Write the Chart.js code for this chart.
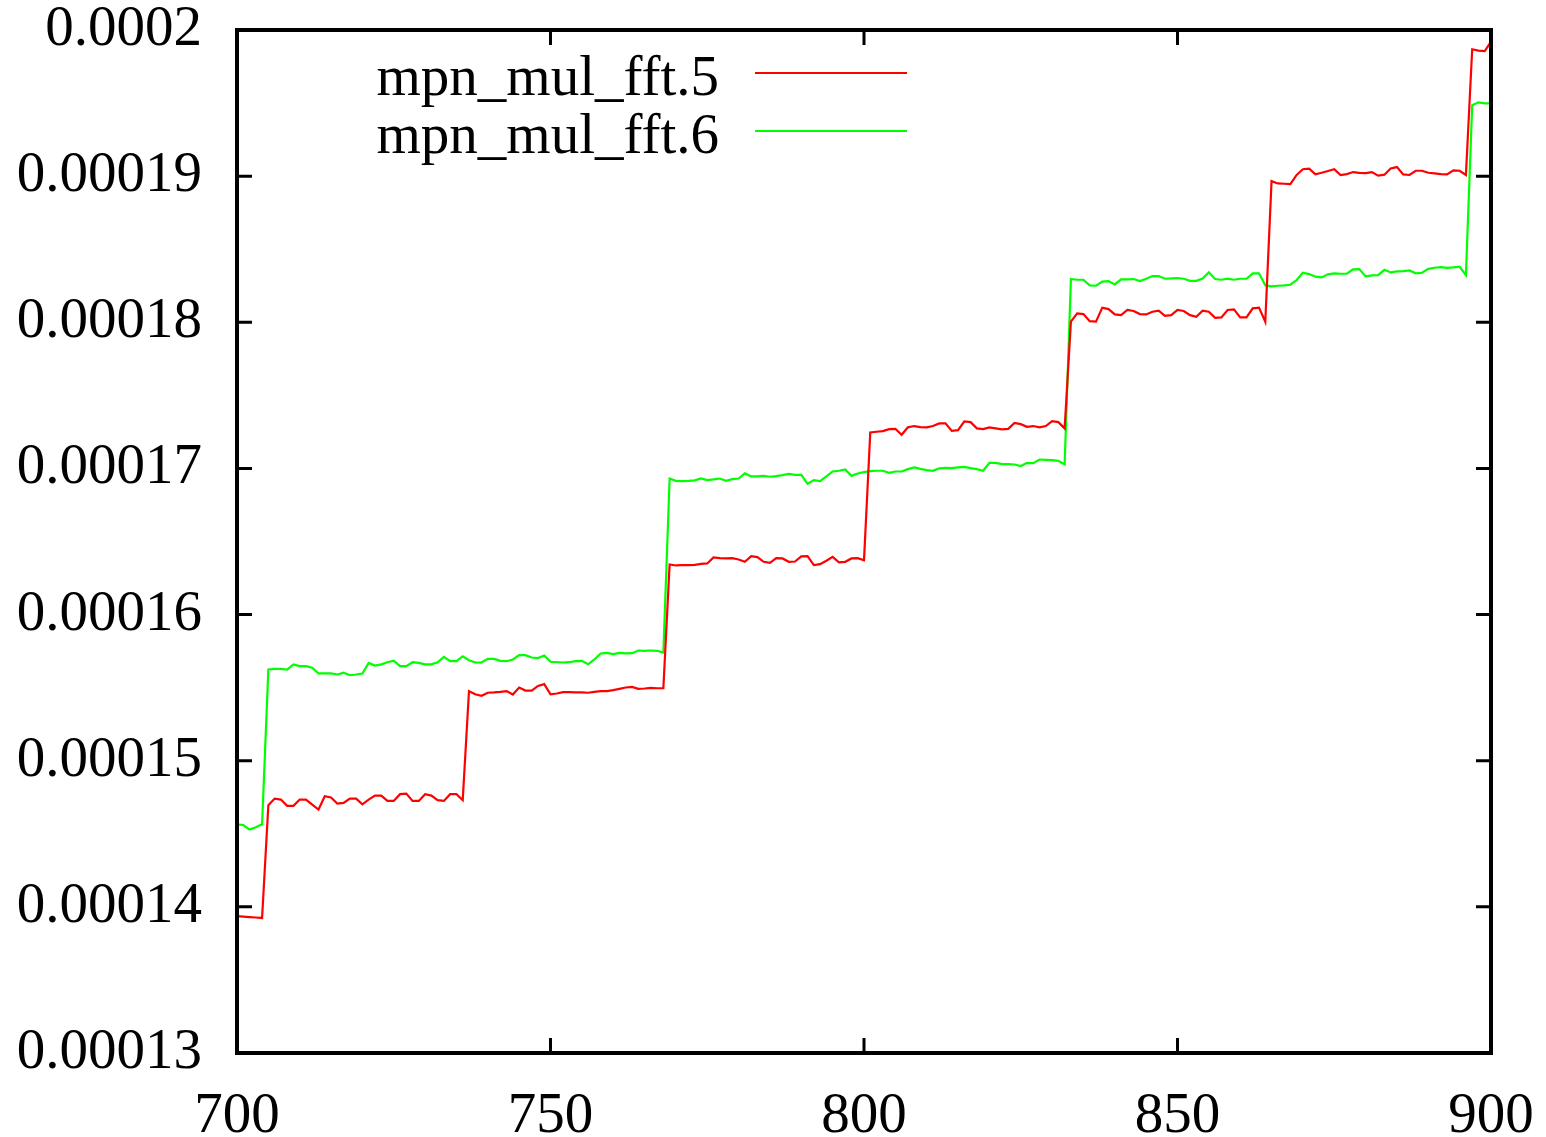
<!DOCTYPE html>
<html>
<head>
<meta charset="utf-8">
<script src="https://cdn.jsdelivr.net/npm/chart.js@4"></script>
<style>
  html, body { margin: 0; padding: 0; background: #fff; }
  #wrap { width: 1546px; height: 1137px; position: relative; }
</style>
</head>
<body>
<div id="wrap"><canvas id="chart"></canvas></div>
<script>
// sizes (x axis)
const sizes = [
  700, 701, 702, 703, 704, 705, 706, 707, 708, 709, 710, 711, 712, 713, 714, 715, 716, 717, 718, 719,
  720, 721, 722, 723, 724, 725, 726, 727, 728, 729, 730, 731, 732, 733, 734, 735, 736, 737, 738, 739,
  740, 741, 742, 743, 744, 745, 746, 747, 748, 749, 750, 751, 752, 753, 754, 755, 756, 757, 758, 759,
  760, 761, 762, 763, 764, 765, 766, 767, 768, 769, 770, 771, 772, 773, 774, 775, 776, 777, 778, 779,
  780, 781, 782, 783, 784, 785, 786, 787, 788, 789, 790, 791, 792, 793, 794, 795, 796, 797, 798, 799,
  800, 801, 802, 803, 804, 805, 806, 807, 808, 809, 810, 811, 812, 813, 814, 815, 816, 817, 818, 819,
  820, 821, 822, 823, 824, 825, 826, 827, 828, 829, 830, 831, 832, 833, 834, 835, 836, 837, 838, 839,
  840, 841, 842, 843, 844, 845, 846, 847, 848, 849, 850, 851, 852, 853, 854, 855, 856, 857, 858, 859,
  860, 861, 862, 863, 864, 865, 866, 867, 868, 869, 870, 871, 872, 873, 874, 875, 876, 877, 878, 879,
  880, 881, 882, 883, 884, 885, 886, 887, 888, 889, 890, 891, 892, 893, 894, 895, 896, 897, 898, 899,
  900
];

// mpn_mul_fft.5 timings
const fft5 = [
  1.3936e-4, 1.3933e-4, 1.3930e-4, 1.3927e-4, 1.3924e-4,
  1.4695e-4, 1.4741e-4, 1.4734e-4, 1.4691e-4, 1.4691e-4, 1.4734e-4, 1.4734e-4, 1.4700e-4,
  1.4666e-4, 1.4757e-4, 1.4748e-4, 1.4707e-4, 1.4711e-4, 1.4741e-4, 1.4741e-4, 1.4702e-4,
  1.4734e-4, 1.4761e-4, 1.4761e-4, 1.4725e-4, 1.4725e-4, 1.4771e-4, 1.4775e-4, 1.4725e-4,
  1.4725e-4, 1.4771e-4, 1.4761e-4, 1.4730e-4, 1.4725e-4, 1.4771e-4, 1.4771e-4, 1.4730e-4,
  1.5476e-4, 1.5455e-4, 1.5444e-4, 1.5465e-4, 1.5467e-4, 1.5471e-4, 1.5476e-4, 1.5453e-4,
  1.5501e-4, 1.5480e-4, 1.5480e-4, 1.5512e-4, 1.5524e-4, 1.5455e-4, 1.5460e-4, 1.5469e-4,
  1.5469e-4, 1.5467e-4, 1.5467e-4, 1.5465e-4, 1.5471e-4, 1.5476e-4, 1.5476e-4, 1.5483e-4,
  1.5492e-4, 1.5501e-4, 1.5505e-4, 1.5492e-4, 1.5494e-4, 1.5499e-4, 1.5496e-4, 1.5496e-4,
  1.6343e-4, 1.6336e-4, 1.6338e-4, 1.6338e-4, 1.6340e-4, 1.6347e-4, 1.6350e-4, 1.6391e-4,
  1.6386e-4, 1.6384e-4, 1.6386e-4, 1.6377e-4, 1.6361e-4, 1.6400e-4, 1.6393e-4, 1.6361e-4,
  1.6354e-4, 1.6386e-4, 1.6384e-4, 1.6361e-4, 1.6363e-4, 1.6398e-4, 1.6400e-4, 1.6338e-4,
  1.6345e-4, 1.6368e-4, 1.6395e-4, 1.6357e-4, 1.6361e-4, 1.6384e-4, 1.6386e-4, 1.6372e-4,
  1.7246e-4, 1.7251e-4, 1.7255e-4, 1.7269e-4, 1.7271e-4, 1.7230e-4, 1.7281e-4, 1.7290e-4,
  1.7283e-4, 1.7281e-4, 1.7290e-4, 1.7308e-4, 1.7308e-4, 1.7257e-4, 1.7262e-4, 1.7322e-4,
  1.7317e-4, 1.7274e-4, 1.7269e-4, 1.7281e-4, 1.7274e-4, 1.7267e-4, 1.7271e-4, 1.7312e-4,
  1.7303e-4, 1.7285e-4, 1.7290e-4, 1.7281e-4, 1.7290e-4, 1.7324e-4, 1.7317e-4, 1.7274e-4,
  1.8004e-4, 1.8061e-4, 1.8056e-4, 1.8008e-4, 1.8004e-4, 1.8100e-4, 1.8090e-4, 1.8054e-4,
  1.8049e-4, 1.8084e-4, 1.8077e-4, 1.8056e-4, 1.8054e-4, 1.8072e-4, 1.8079e-4, 1.8044e-4,
  1.8049e-4, 1.8084e-4, 1.8077e-4, 1.8049e-4, 1.8038e-4, 1.8079e-4, 1.8072e-4, 1.8031e-4,
  1.8033e-4, 1.8084e-4, 1.8088e-4, 1.8033e-4, 1.8033e-4, 1.8095e-4, 1.8100e-4, 1.8004e-4,
  1.8966e-4, 1.8950e-4, 1.8948e-4, 1.8946e-4, 1.9008e-4, 1.9047e-4, 1.9051e-4, 1.9012e-4,
  1.9023e-4, 1.9035e-4, 1.9047e-4, 1.9008e-4, 1.9014e-4, 1.9028e-4, 1.9023e-4, 1.9021e-4,
  1.9028e-4, 1.9003e-4, 1.9010e-4, 1.9053e-4, 1.9062e-4, 1.9012e-4, 1.9008e-4, 1.9037e-4,
  1.9037e-4, 1.9023e-4, 1.9019e-4, 1.9014e-4, 1.9012e-4, 1.9040e-4, 1.9037e-4, 1.9008e-4,
  1.9868e-4, 1.9859e-4, 1.9856e-4, 1.9920e-4
];

// mpn_mul_fft.6 timings
const fft6 = [
  1.4565e-4, 1.4560e-4, 1.4529e-4, 1.4545e-4, 1.4565e-4,
  1.5624e-4, 1.5629e-4, 1.5629e-4, 1.5624e-4, 1.5659e-4, 1.5647e-4, 1.5647e-4, 1.5636e-4,
  1.5597e-4, 1.5597e-4, 1.5597e-4, 1.5590e-4, 1.5602e-4, 1.5585e-4, 1.5590e-4, 1.5597e-4,
  1.5669e-4, 1.5651e-4, 1.5659e-4, 1.5674e-4, 1.5685e-4, 1.5647e-4, 1.5647e-4, 1.5674e-4,
  1.5669e-4, 1.5659e-4, 1.5659e-4, 1.5674e-4, 1.5711e-4, 1.5681e-4, 1.5681e-4, 1.5715e-4,
  1.5688e-4, 1.5672e-4, 1.5672e-4, 1.5697e-4, 1.5697e-4, 1.5683e-4, 1.5681e-4, 1.5693e-4,
  1.5722e-4, 1.5722e-4, 1.5706e-4, 1.5702e-4, 1.5720e-4, 1.5677e-4, 1.5674e-4, 1.5672e-4,
  1.5674e-4, 1.5681e-4, 1.5683e-4, 1.5660e-4, 1.5693e-4, 1.5734e-4, 1.5738e-4, 1.5729e-4,
  1.5738e-4, 1.5734e-4, 1.5736e-4, 1.5754e-4, 1.5752e-4, 1.5754e-4, 1.5752e-4, 1.5740e-4,
  1.6931e-4, 1.6915e-4, 1.6913e-4, 1.6915e-4, 1.6918e-4, 1.6931e-4, 1.6920e-4, 1.6925e-4,
  1.6931e-4, 1.6915e-4, 1.6927e-4, 1.6931e-4, 1.6966e-4, 1.6945e-4, 1.6945e-4, 1.6949e-4,
  1.6943e-4, 1.6947e-4, 1.6954e-4, 1.6963e-4, 1.6956e-4, 1.6956e-4, 1.6895e-4, 1.6920e-4,
  1.6913e-4, 1.6945e-4, 1.6979e-4, 1.6984e-4, 1.6993e-4, 1.6949e-4, 1.6965e-4, 1.6975e-4,
  1.6981e-4, 1.6984e-4, 1.6984e-4, 1.6970e-4, 1.6979e-4, 1.6979e-4, 1.6995e-4, 1.7007e-4,
  1.6997e-4, 1.6988e-4, 1.6984e-4, 1.7000e-4, 1.7004e-4, 1.7002e-4, 1.7007e-4, 1.7011e-4,
  1.7002e-4, 1.6995e-4, 1.6984e-4, 1.7038e-4, 1.7038e-4, 1.7029e-4, 1.7029e-4, 1.7027e-4,
  1.7016e-4, 1.7038e-4, 1.7036e-4, 1.7061e-4, 1.7059e-4, 1.7057e-4, 1.7052e-4, 1.7027e-4,
  1.8296e-4, 1.8291e-4, 1.8291e-4, 1.8253e-4, 1.8250e-4, 1.8278e-4, 1.8282e-4, 1.8259e-4,
  1.8294e-4, 1.8294e-4, 1.8296e-4, 1.8282e-4, 1.8298e-4, 1.8316e-4, 1.8316e-4, 1.8298e-4,
  1.8300e-4, 1.8303e-4, 1.8298e-4, 1.8284e-4, 1.8284e-4, 1.8300e-4, 1.8342e-4, 1.8296e-4,
  1.8291e-4, 1.8298e-4, 1.8291e-4, 1.8298e-4, 1.8298e-4, 1.8335e-4, 1.8335e-4, 1.8253e-4,
  1.8246e-4, 1.8250e-4, 1.8253e-4, 1.8257e-4, 1.8289e-4, 1.8339e-4, 1.8330e-4, 1.8312e-4,
  1.8307e-4, 1.8328e-4, 1.8335e-4, 1.8332e-4, 1.8332e-4, 1.8362e-4, 1.8364e-4, 1.8314e-4,
  1.8321e-4, 1.8323e-4, 1.8359e-4, 1.8341e-4, 1.8348e-4, 1.8350e-4, 1.8355e-4, 1.8335e-4,
  1.8339e-4, 1.8366e-4, 1.8373e-4, 1.8378e-4, 1.8373e-4, 1.8376e-4, 1.8380e-4, 1.8323e-4,
  1.9485e-4, 1.9505e-4, 1.9498e-4, 1.9498e-4
];

const seriesLabels = ['mpn_mul_fft.5', 'mpn_mul_fft.6'];
const seriesColors = ['#ff0000', '#00ff00'];
const xTickValues = [700, 750, 800, 850, 900];
const yTickLabels = ['0.00013', '0.00014', '0.00015', '0.00016', '0.00017', '0.00018', '0.00019', '0.0002'];

const FONT = '"Liberation Serif", "Times New Roman", serif';

// no extra room for overhanging tick labels, the frame sits at fixed padding
const noPad = s => { s.paddingTop = 0; s.paddingBottom = 0; s.paddingLeft = 0; s.paddingRight = 0; };

// gnuplot-like frame with inward ticks on all four sides
const framePlugin = {
  id: 'frame',
  afterDatasetsDraw(chart) {
    const { ctx, chartArea: a, scales: { x, y } } = chart;
    const len = 15;
    ctx.save();
    ctx.strokeStyle = '#000';
    ctx.lineWidth = 3;
    ctx.beginPath();
    y.ticks.forEach(t => {
      const py = y.getPixelForValue(t.value);
      ctx.moveTo(a.left, py); ctx.lineTo(a.left + len, py);
      ctx.moveTo(a.right, py); ctx.lineTo(a.right - len, py);
    });
    x.ticks.forEach(t => {
      const px = x.getPixelForValue(t.value);
      ctx.moveTo(px, a.bottom); ctx.lineTo(px, a.bottom - len);
      ctx.moveTo(px, a.top); ctx.lineTo(px, a.top + len);
    });
    ctx.stroke();
    ctx.lineWidth = 4;
    ctx.strokeRect(a.left, a.top, a.right - a.left, a.bottom - a.top);
    ctx.restore();
  }
};

// legend: text right-aligned, line sample on the right
const keyPlugin = {
  id: 'key',
  afterDraw(chart) {
    const { ctx } = chart;
    ctx.save();
    ctx.font = '57px ' + FONT;
    ctx.fillStyle = '#000';
    ctx.textAlign = 'right';
    ctx.textBaseline = 'alphabetic';
    chart.data.datasets.forEach((ds, i) => {
      const ly = 73 + i * 58;
      ctx.fillText(ds.label, 719, ly + 22);
      ctx.strokeStyle = ds.borderColor;
      ctx.lineWidth = 2.2;
      ctx.beginPath();
      ctx.moveTo(755, ly);
      ctx.lineTo(907, ly);
      ctx.stroke();
    });
    ctx.restore();
  }
};

new Chart(document.getElementById('chart'), {
  type: 'line',
  data: {
    datasets: [fft5, fft6].map((vals, i) => ({
      label: seriesLabels[i],
      data: vals.map((v, k) => ({ x: sizes[k], y: v })),
      borderColor: seriesColors[i],
      backgroundColor: seriesColors[i],
      borderWidth: 2.2,
      pointRadius: 0,
      tension: 0,
      fill: false
    }))
  },
  options: {
    responsive: true,
    maintainAspectRatio: false,
    animation: false,
    devicePixelRatio: 1,
    layout: { autoPadding: false, padding: { left: 0, top: 30, right: 55, bottom: 0 } },
    plugins: { legend: { display: false }, tooltip: { enabled: false } },
    scales: {
      x: {
        type: 'linear',
        min: 700,
        max: 900,
        afterBuildTicks: s => { s.ticks = xTickValues.map(v => ({ value: v })); },
        afterFit: s => { s.height = 84; noPad(s); },
        grid: { display: false, drawTicks: false, tickLength: 0 },
        border: { display: false },
        ticks: { color: '#000', font: { family: FONT, size: 57 }, padding: 30, maxRotation: 0, autoSkip: false }
      },
      y: {
        type: 'linear',
        min: 0.00013,
        max: 0.0002,
        afterBuildTicks: s => { s.ticks = yTickLabels.map(l => ({ value: parseFloat(l) })); },
        afterFit: s => { s.width = 237; noPad(s); },
        grid: { display: false, drawTicks: false, tickLength: 0 },
        border: { display: false },
        ticks: {
          color: '#000',
          font: { family: FONT, size: 57 },
          padding: 35,
          autoSkip: false,
          callback: (v) => yTickLabels.find(l => Math.abs(parseFloat(l) - v) < 1e-9)
        }
      }
    }
  },
  plugins: [framePlugin, keyPlugin]
});
</script>
</body>
</html>
